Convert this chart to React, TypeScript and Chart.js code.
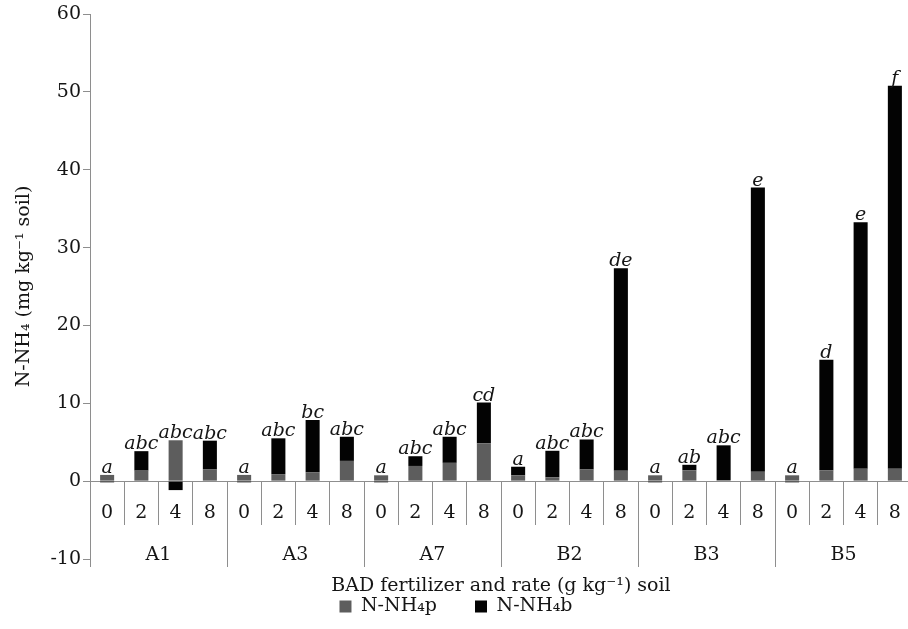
import React, { useEffect, useRef } from 'react';
import { Chart, registerables } from 'chart.js';

Chart.register(...registerables);

// ---- data ----
const groups = ['A1', 'A3', 'A7', 'B2', 'B3', 'B5'];
const rates = ['0', '2', '4', '8'];
const nh4p = [0.8, 1.35, 5.25, 1.5, 0.8, 0.9, 1.15, 2.6, 0.75, 1.95, 2.35, 4.85, 0.75, 0.5, 1.5, 1.35, 0.75, 1.4, 0.1, 1.2, 0.75, 1.4, 1.6, 1.6];
const nh4b = [-0.15, 2.5, -1.15, 3.7, -0.15, 4.6, 6.7, 3.1, -0.15, 1.25, 3.35, 5.25, 1.1, 3.4, 3.85, 26.0, -0.15, 0.7, 4.5, 36.5, -0.15, 14.2, 31.65, 49.2];
const sigLetters = ['a', 'abc', 'abc', 'abc', 'a', 'abc', 'bc', 'abc', 'a', 'abc', 'abc', 'cd', 'a', 'abc', 'abc', 'de', 'a', 'ab', 'abc', 'e', 'a', 'd', 'e', 'f'];
const seriesNames = ['N-NH₄p', 'N-NH₄b'];
const yMin = -10;
const yMax = 60;
const yStep = 10;
const yTitle = 'N-NH₄ (mg kg⁻¹ soil)';
const xTitle = 'BAD fertilizer and rate (g kg⁻¹) soil';

const SERIF = '"DejaVu Serif", "Liberation Serif", serif';
const AXIS = '#8e8e8e';
const TEXT = '#151515';
const GRAY = '#5d5d5d';
const BLACK = '#030303';

const letterPlugin = {
  id: 'sigLetters',
  afterDatasetsDraw(chart: any) {
    const { ctx } = chart;
    const meta = chart.getDatasetMeta(0);
    const yScale = chart.scales.y;
    ctx.save();
    ctx.font = `italic 19px ${SERIF}`;
    ctx.fillStyle = TEXT;
    ctx.textAlign = 'center';
    ctx.textBaseline = 'alphabetic';
    meta.data.forEach((bar: any, i: number) => {
      const top = Math.max(nh4p[i], 0) + Math.max(nh4b[i], 0);
      ctx.fillText(sigLetters[i], bar.x, yScale.getPixelForValue(top) - 2);
    });
    ctx.restore();
  },
};

export default function App() {
  const ref = useRef<HTMLCanvasElement | null>(null);
  useEffect(() => {
    if (!ref.current) return;
    const labels = groups.flatMap(() => rates);
    const tickFont = { family: SERIF, size: 19 };
    const chart = new Chart(ref.current, {
      type: 'bar',
      data: {
        labels,
        datasets: [
          { label: seriesNames[0], data: nh4p, backgroundColor: GRAY, borderWidth: 0, xAxisID: 'x', yAxisID: 'y', barPercentage: 0.41, categoryPercentage: 1 },
          { label: seriesNames[1], data: nh4b, backgroundColor: BLACK, borderWidth: 0, xAxisID: 'x', yAxisID: 'y', barPercentage: 0.41, categoryPercentage: 1 },
        ],
      },
      options: {
        animation: false,
        responsive: true,
        maintainAspectRatio: false,
        layout: { padding: { top: 14, right: 0, bottom: 3, left: 0 } },
        plugins: {
          legend: {
            position: 'bottom',
            labels: { font: { family: SERIF, size: 19 }, color: TEXT, boxWidth: 12, boxHeight: 12, padding: 38 },
          },
          tooltip: { enabled: false },
        },
        scales: {
          x: {
            type: 'category',
            stacked: true,
            offset: true,
            position: { y: 0 },
            grid: { offset: true, drawOnChartArea: false, drawTicks: true, tickLength: 43, color: AXIS, lineWidth: 1 },
            border: { display: true, color: AXIS },
            ticks: { font: tickFont, color: TEXT, padding: -22.4, autoSkip: false, maxRotation: 0 },
          },
          x2: {
            type: 'category',
            labels: groups,
            offset: true,
            position: { y: 0 },
            grid: { offset: true, drawOnChartArea: false, drawTicks: true, tickLength: 86, color: AXIS, lineWidth: 1 },
            border: { display: false },
            ticks: { font: tickFont, color: TEXT, padding: -23.4, autoSkip: false, maxRotation: 0 },
            title: { display: true, text: xTitle, font: { family: SERIF, size: 19 }, color: TEXT, padding: 0 },
            afterFit: (s: any) => { s.height = 116.4; },
          },
          y: {
            stacked: true,
            min: yMin,
            max: yMax,
            ticks: { stepSize: yStep, font: tickFont, color: TEXT, padding: 2 },
            grid: { drawOnChartArea: false, drawTicks: true, tickLength: 7, color: AXIS },
            border: { display: true, color: AXIS },
            title: { display: true, text: yTitle, font: { family: SERIF, size: 19 }, color: TEXT, padding: { top: 13, bottom: 0 } },
            afterFit: (s: any) => { s.width = 90; },
          },
        },
      } as any,
      plugins: [letterPlugin],
    });
    return () => chart.destroy();
  }, []);
  return (
    <div style={{ position: 'fixed', left: 0, top: 0, width: 908, height: 629, overflow: 'hidden', background: '#fff' }}>
      <div style={{ position: 'relative', width: 912, height: 629 }}>
        <canvas ref={ref} />
      </div>
    </div>
  );
}
